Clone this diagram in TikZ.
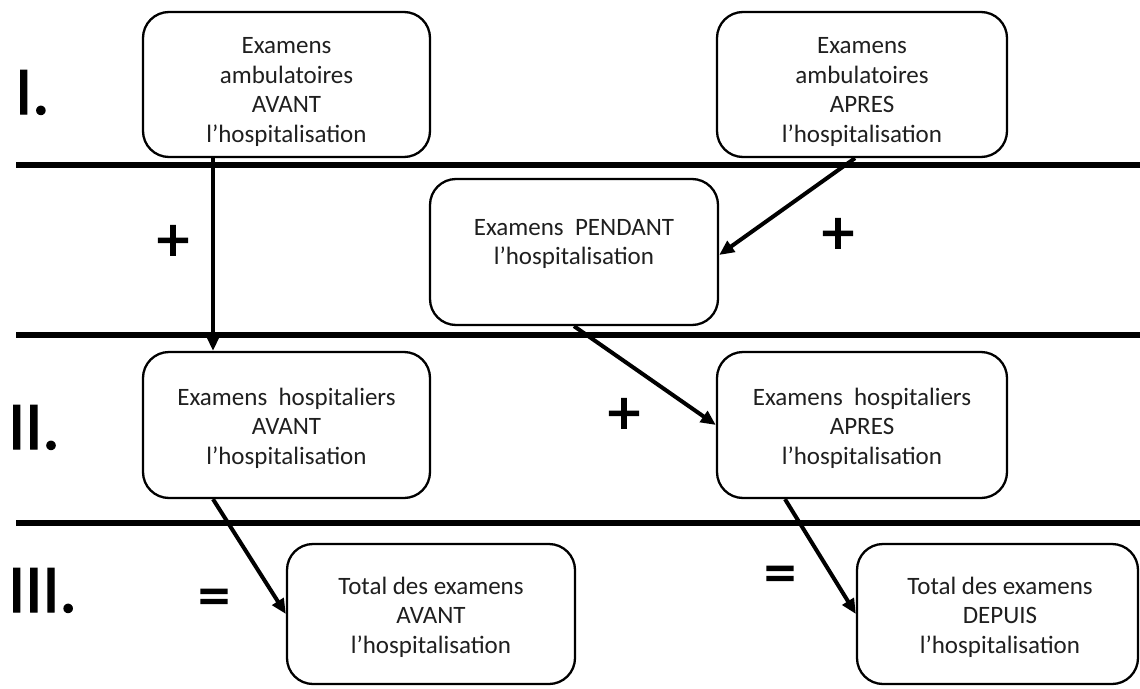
\documentclass[tikz,border=0pt]{standalone}
\usepackage{fontspec}
\setmainfont{Carlito}
\newfontfamily\heavyfont[FakeBold=2]{Carlito}
\usetikzlibrary{arrows.meta,calc}
\begin{document}
\begin{tikzpicture}[x=1pt,y=-1pt,
  box/.style={draw, line width=2.3pt, rounded corners=26pt, inner sep=0pt, fill=white},
  txt/.style={align=center, font=\fontsize{25}{29.5}\selectfont, text=black!88, inner sep=0pt},
  sepline/.style={line width=6pt},
  arr/.style={line width=4pt, -{Triangle[length=15pt,width=13pt]}},
  num/.style={font=\heavyfont\fontsize{68}{68}\selectfont, anchor=base west, inner sep=0pt},
  op/.style={font=\heavyfont\fontsize{64}{64}\selectfont, inner sep=0pt}]
\useasboundingbox (0,0) rectangle (1140,688);

% separator lines
\coordinate (l1a) at (16,165); \coordinate (l1b) at (1140,165);
\coordinate (l2a) at (16,335); \coordinate (l2b) at (1140,335);
\coordinate (l3a) at (16,523); \coordinate (l3b) at (1140,523);
\draw[sepline] (l1a) -- (l1b);
\draw[sepline] (l2a) -- (l2b);
\draw[sepline] (l3a) -- (l3b);

% boxes
\node[box, minimum width=287pt, minimum height=145pt] (A) at (286.5,84.5) {};
\node[box, minimum width=290pt, minimum height=145pt] (B) at (862,84.5) {};
\node[box, minimum width=288pt, minimum height=146pt] (C) at (574,252) {};
\node[box, minimum width=287pt, minimum height=146pt] (D) at (286.5,425) {};
\node[box, minimum width=290pt, minimum height=146pt] (E) at (862,425) {};
\node[box, minimum width=288pt, minimum height=140pt] (F) at (431,614) {};
\node[box, minimum width=281pt, minimum height=140pt] (G) at (997.5,614) {};

% box texts
\node[txt] (tA) at (286.5,92) {Examens\\ambulatoires\\AVANT\\l’hospitalisation};
\node[txt] (tB) at (862,92) {Examens\\ambulatoires\\APRES\\l’hospitalisation};
\node[txt] (tC) at (574,244) {Examens\ \ PENDANT\\l’hospitalisation};
\node[txt] (tD) at (286.5,428) {Examens\ \ hospitaliers\\AVANT\\l’hospitalisation};
\node[txt] (tE) at (862,428) {Examens\ \ hospitaliers\\APRES\\l’hospitalisation};
\node[txt] (tF) at (431,617) {Total des examens\\AVANT\\l’hospitalisation};
\node[txt] (tG) at (1000,617) {Total des examens\\DEPUIS\\l’hospitalisation};

% row numerals
\node[num] (n1) at (15,114) {I.};
\node[num] (n2) at (8,449) {II.};
\node[num] (n3) at (8,612) {III.};

% operators
\node[op] (p1) at (173,243) {+};
\node[op] (p2) at (838,236) {+};
\node[op] (p3) at (624,416) {+};
\node[op] (e1) at (214,603) {=};
\node[op] (e2) at (780,580) {=};

% connectors
\draw[arr] ([xshift=-73.5pt]A.south) -- ([xshift=-73.5pt]D.north);
\draw[arr] ([xshift=-7pt]B.south) -- ([yshift=-3pt]C.east);
\draw[arr] (C.south) -- (E.west);
\draw[arr] ([xshift=-73.5pt]D.south) -- (F.west);
\draw[arr] ([xshift=-77pt]E.south) -- (G.west);
\end{tikzpicture}
\end{document}
